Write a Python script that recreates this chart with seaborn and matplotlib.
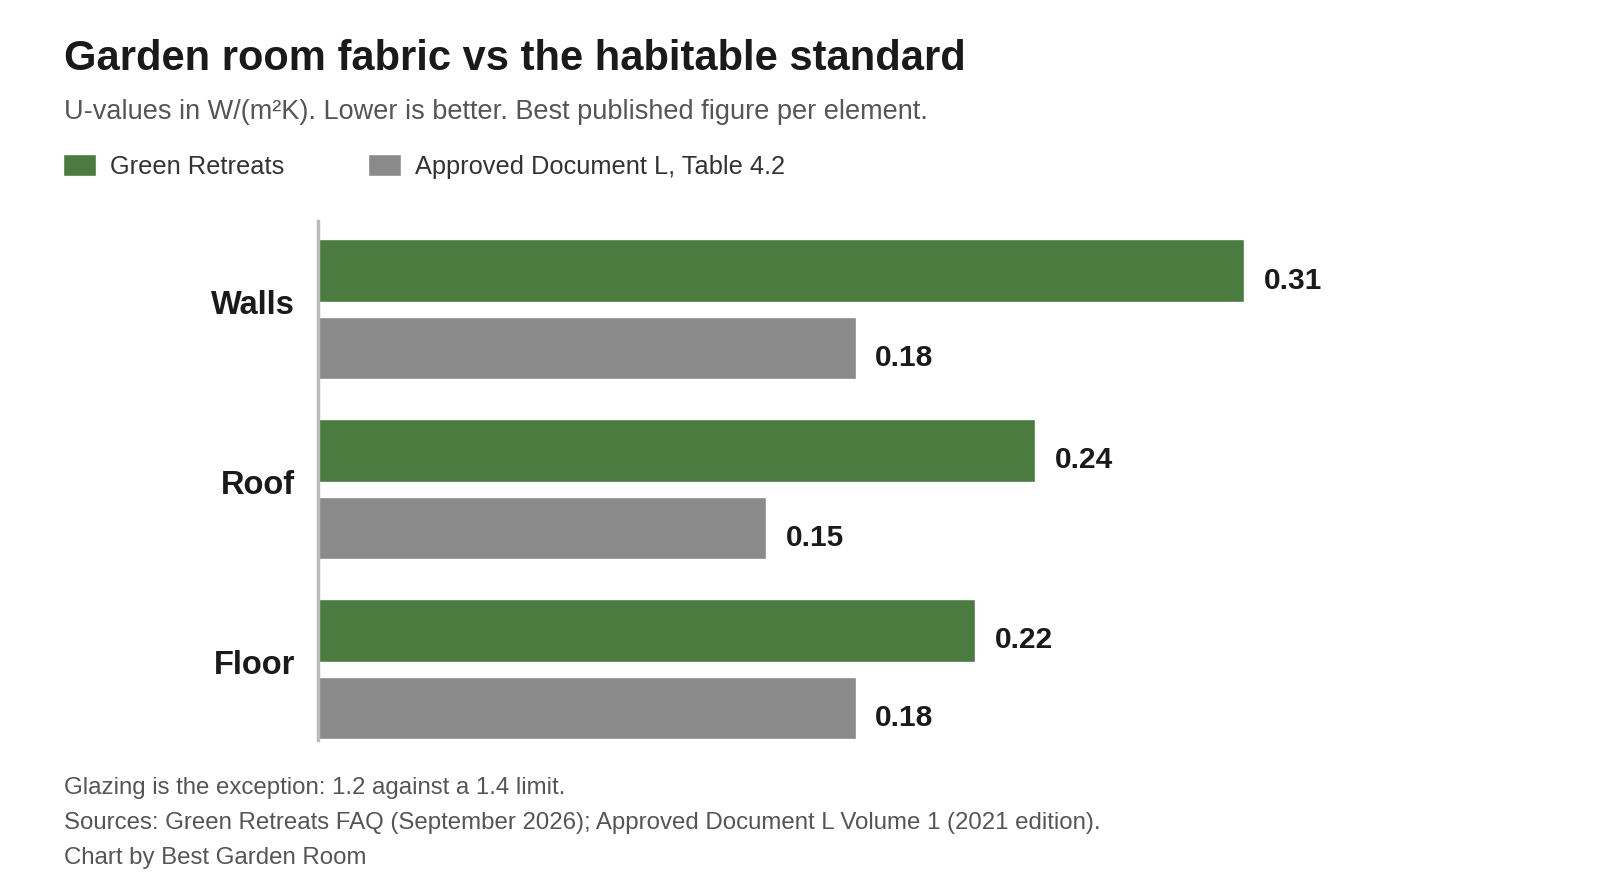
import matplotlib.pyplot as plt
import matplotlib.transforms as mtransforms
import pandas as pd
import seaborn as sns

# Datos del gráfico
elementos = ["Walls", "Roof", "Floor"]
green_retreats = [0.31, 0.24, 0.22]
approved_doc_l = [0.18, 0.15, 0.18]
series = ["Green Retreats", "Approved Document L, Table 4.2"]

df = pd.DataFrame({
    "element": elementos * 2,
    "u_value": green_retreats + approved_doc_l,
    "series": [series[0]] * 3 + [series[1]] * 3,
})

sns.set_theme(style="white")
plt.rcParams["font.family"] = ["Liberation Sans", "DejaVu Sans"]

fig = plt.figure(figsize=(16, 8.96), dpi=100)
ax = fig.add_axes([0.199, 0.174, 0.79, 0.579])

sns.barplot(
    data=df,
    y="element",
    x="u_value",
    hue="series",
    orient="h",
    palette=["#4a7c3f", "#8a8a8a"],
    width=0.86,
    gap=0.19,
    errorbar=None,
    saturation=1,
    ax=ax,
)

for cont in ax.containers:
    anns = ax.bar_label(cont, fmt="%.2f", padding=14, fontsize=21.5, fontweight="bold", color="#1a1a1a")
    for a in anns:
        a.xyann = (14, -7)

ax.set_xlim(0, 0.4233)
ax.set_ylim(2.394, -0.49)
ax.set_xlabel("")
ax.set_ylabel("")
ax.set_xticks([])
ax.tick_params(axis="y", length=0, pad=17, labelsize=23.5)
desplaza = mtransforms.ScaledTranslation(0, 7 / 100, fig.dpi_scale_trans)
for lab in ax.get_yticklabels():
    lab.set_fontweight("bold")
    lab.set_color("#1a1a1a")
    lab.set_transform(lab.get_transform() + desplaza)
for s in ["top", "right", "bottom"]:
    ax.spines[s].set_visible(False)
ax.spines["left"].set_color("#bbbbbb")
ax.spines["left"].set_linewidth(2.5)

handles, labels = ax.get_legend_handles_labels()
ax.legend_.remove()
fig.legend(
    handles, labels, loc="center left", bbox_to_anchor=(0.025, 0.814), ncol=2,
    frameon=False, fontsize=18.3, handlelength=1.3, handleheight=0.95,
    handletextpad=0.55, columnspacing=3.3, labelcolor="#333333",
)

fig.text(0.04, 0.934, "Garden room fabric vs the habitable standard",
         fontsize=30, fontweight="bold", color="#1a1a1a", va="center")
fig.text(0.04, 0.875, "U-values in W/(m²K). Lower is better. Best published figure per element.",
         fontsize=19.5, color="#555555", va="center")

fig.text(0.04, 0.12, "Glazing is the exception: 1.2 against a 1.4 limit.",
         fontsize=17.3, color="#555555", va="center")
fig.text(0.04, 0.081, "Sources: Green Retreats FAQ (September 2026); Approved Document L Volume 1 (2021 edition).",
         fontsize=17.3, color="#555555", va="center")
fig.text(0.04, 0.042, "Chart by Best Garden Room",
         fontsize=17.3, color="#555555", va="center")

fig.savefig("out.png", dpi=100, facecolor="white")
plt.close()
